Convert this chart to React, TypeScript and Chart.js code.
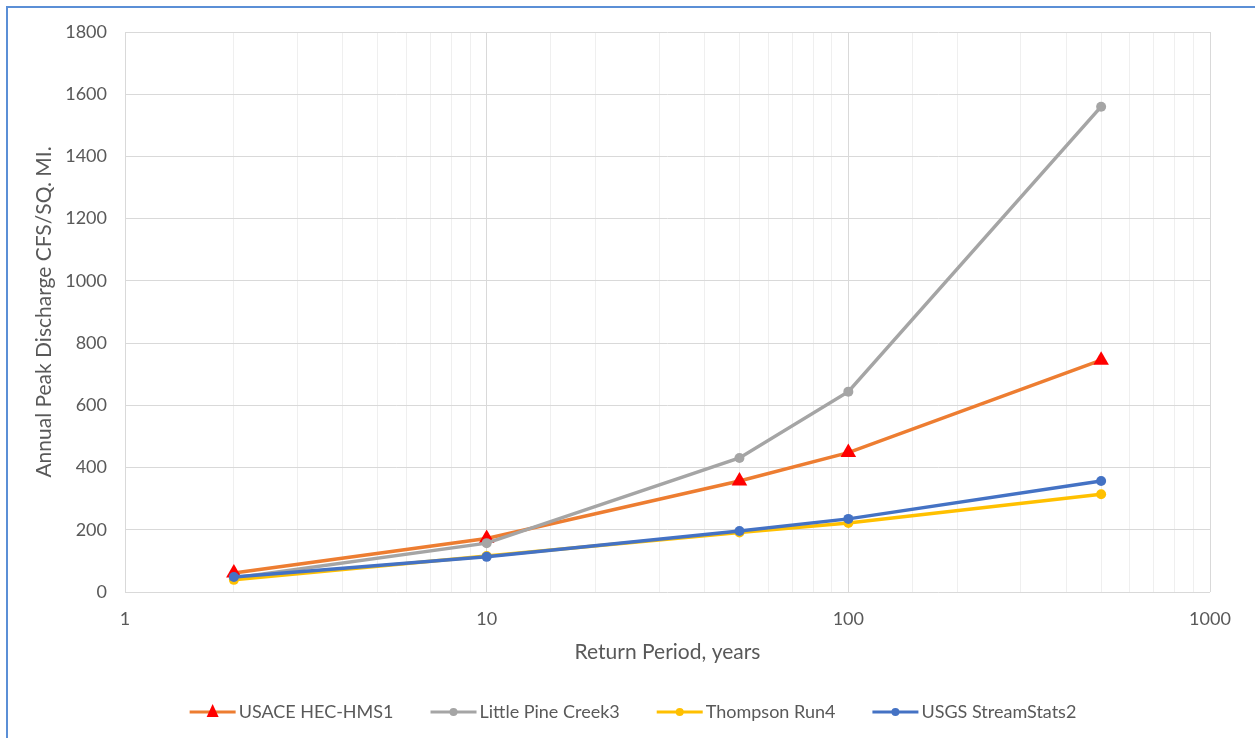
import React, { useEffect, useRef } from "react";
import { Chart, registerables } from "chart.js";

Chart.register(...registerables);

const returnPeriods = [2, 10, 50, 100, 500];
const usaceHecHms = [61, 172, 357, 448, 745];
const littlePineCreek = [45, 157, 431, 644, 1560];
const thompsonRun = [39, 116, 191, 222, 314];
const usgsStreamStats = [48, 113, 196, 235, 357];
const yTicks = { min: 0, max: 1800, step: 200 };
const xRange = { min: 1, max: 1000 };

const seriesNames = ["USACE HEC-HMS1", "Little Pine Creek3", "Thompson Run4", "USGS StreamStats2"];
const lineColors = ["#ED7D31", "#A5A5A5", "#FFC000", "#4472C4"];
const markerColors = ["#FF0000", "#A5A5A5", "#FFC000", "#4472C4"];
const markerStyles = ["triangle", "circle", "circle", "circle"];

const FONT = "Lato, 'Open Sans', sans-serif";
const TEXT = "#595959";

const toPoints = (vals: number[]) => returnPeriods.map((x, i) => ({ x, y: vals[i] }));

const legendPlugin = {
  id: "customLegend",
  afterDraw(chart: any) {
    const ctx = chart.ctx;
    ctx.save();
    ctx.font = `18px ${FONT}`;
    const lineW = 46;
    const gapText = 3;
    const gapItem = 37;
    const widths = seriesNames.map((n) => lineW + gapText + ctx.measureText(n).width);
    const total = widths.reduce((a, b) => a + b, 0) + gapItem * (widths.length - 1);
    let x = 633 - total / 2;
    const y = 712;
    seriesNames.forEach((name, i) => {
      ctx.strokeStyle = lineColors[i];
      ctx.lineWidth = 3;
      ctx.beginPath();
      ctx.moveTo(x, y);
      ctx.lineTo(x + lineW, y);
      ctx.stroke();
      const cx = x + lineW / 2;
      ctx.fillStyle = markerColors[i];
      ctx.beginPath();
      if (markerStyles[i] === "triangle") {
        ctx.moveTo(cx, y - 8);
        ctx.lineTo(cx + 6, y + 5);
        ctx.lineTo(cx - 6, y + 5);
        ctx.closePath();
      } else {
        ctx.arc(cx, y, 4, 0, Math.PI * 2);
      }
      ctx.fill();
      ctx.fillStyle = TEXT;
      ctx.textBaseline = "middle";
      ctx.textAlign = "left";
      ctx.fillText(name, x + lineW + gapText, y);
      x += widths[i] + gapItem;
    });
    ctx.restore();
  },
};

export default function App() {
  const ref = useRef<HTMLCanvasElement | null>(null);
  useEffect(() => {
    if (!ref.current) return;
    const allSeries = [usaceHecHms, littlePineCreek, thompsonRun, usgsStreamStats];
    const chart = new Chart(ref.current, {
      type: "line",
      data: {
        datasets: allSeries.map((vals, i) => ({
          label: seriesNames[i],
          data: toPoints(vals),
          borderColor: lineColors[i],
          backgroundColor: markerColors[i],
          pointBackgroundColor: markerColors[i],
          pointBorderColor: markerColors[i],
          pointStyle: markerStyles[i] as any,
          pointRadius: markerStyles[i] === "triangle" ? 9 : 5,
          pointBorderWidth: 0,
          borderWidth: 3.5,
          tension: 0,
          order: 4 - i,
        })),
      },
      options: {
        animation: false,
        responsive: false,
        maintainAspectRatio: false,
        layout: { padding: { left: 0, right: 45, top: 32, bottom: 66 } },
        plugins: { legend: { display: false }, tooltip: { enabled: false } },
        scales: {
          x: {
            type: "logarithmic",
            min: xRange.min,
            max: xRange.max,
            border: { display: false },
            grid: {
              drawTicks: false,
              color: (c: any) => {
                const v = c.tick?.value;
                const l = Math.log10(v);
                return Math.abs(l - Math.round(l)) < 1e-9 ? "#D9D9D9" : "#EFEFEF";
              },
            },
            ticks: {
              autoSkip: false,
              maxRotation: 0,
              padding: 16,
              color: TEXT,
              font: { family: FONT, size: 18 },
              callback: (v: any) => {
                const l = Math.log10(Number(v));
                return Math.abs(l - Math.round(l)) < 1e-9 ? String(Number(v)) : "";
              },
            },
            title: {
              display: true,
              text: "Return Period, years",
              color: TEXT,
              font: { family: FONT, size: 21 },
              padding: { top: 0, bottom: 7 },
            },
            afterFit: (s: any) => {
              s.height = 80;
            },
          },
          y: {
            min: yTicks.min,
            max: yTicks.max,
            border: { display: false },
            grid: { drawTicks: false, color: "#D9D9D9" },
            ticks: {
              stepSize: yTicks.step,
              padding: 18,
              color: TEXT,
              font: { family: FONT, size: 18 },
              callback: (v: any) => String(v),
            },
            title: {
              display: true,
              text: "Annual Peak Discharge CFS/SQ. MI.",
              color: TEXT,
              font: { family: FONT, size: 21 },
              padding: { top: 32, bottom: 0 },
            },
            afterFit: (s: any) => {
              s.width = 125;
            },
          },
        },
      },
      plugins: [legendPlugin],
    });
    return () => chart.destroy();
  }, []);

  return (
    <div style={{ position: "fixed", left: 0, top: 0, width: 1255, height: 738, background: "#fff", overflow: "hidden" }}>
      <div
        style={{
          position: "absolute",
          left: 6,
          top: 6,
          width: 1300,
          height: 800,
          borderLeft: "2px solid #5B8FD6",
          borderTop: "2px solid #5B8FD6",
        }}
      />
      <canvas ref={ref} width={1255} height={738} style={{ position: "absolute", left: 0, top: 0 }} />
    </div>
  );
}
